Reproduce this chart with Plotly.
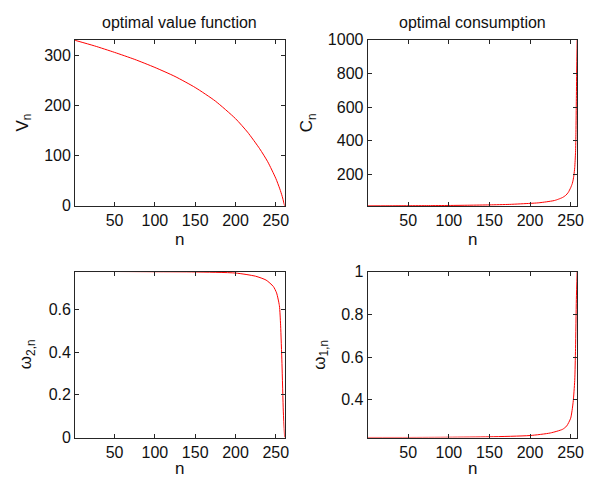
import plotly.graph_objects as go

# ---- data ----
n_v = [1, 25, 50, 75, 100, 125, 150, 175, 200, 215, 230, 240, 250, 255, 258, 261]
v_n = [330, 319, 306, 292, 276, 258, 236, 209, 174, 147, 114, 88, 55, 34, 19, 0]

n_c = [0, 25, 50, 75, 100, 125, 150, 175, 200, 210, 220, 230, 235, 240, 244, 247,
       250, 252, 253, 254, 255, 256, 256.5, 257, 257.5, 258]
c_n = [12, 12.5, 13, 13.5, 14.5, 16, 18, 21, 27, 30, 36, 44, 52, 62, 75, 92,
       120, 145, 165, 195, 240, 330, 450, 650, 850, 1000]

n_w2 = [1, 50, 100, 150, 200, 225, 238, 247, 251, 254.5, 256, 257.7, 259.4, 261]
w2_n = [0.777, 0.777, 0.776, 0.775, 0.770, 0.755, 0.737, 0.707, 0.677, 0.617,
        0.526, 0.346, 0.12, 0.0]

n_w1 = [0, 50, 100, 150, 200, 225, 240, 245, 250, 253, 255, 256, 257, 258]
w1_n = [0.224, 0.224, 0.225, 0.227, 0.233, 0.245, 0.262, 0.277, 0.314, 0.388,
        0.49, 0.64, 0.87, 1.0]

x_ticks = [50, 100, 150, 200, 250]
v_ticks = [0, 100, 200, 300]
c_ticks = [200, 400, 600, 800, 1000]
w2_ticks = [0, 0.2, 0.4, 0.6]
w2_labels = ["0", "0.2", "0.4", "0.6"]
w1_ticks = [0.4, 0.6, 0.8, 1]
w1_labels = ["0.4", "0.6", "0.8", "1"]

titles = ["optimal value function", "optimal consumption"]

W, H = 598, 490
FONT = "Liberation Sans, Arial, Helvetica, sans-serif"
AX = "#262626"
TXT = "#111111"
RED = "#ff0000"

def px_dom(a, b, total):
    return [a / total, b / total]

xl = px_dom(76, 288, W)
xr = px_dom(372, 584, W)
yt = [1 - 205 / H, 1 - 33 / H]
yb = [1 - 445 / H, 1 - 273 / H]

fig = go.Figure()

panels = [
    (n_v, v_n, "x", "y"),
    (n_c, c_n, "x2", "y2"),
    (n_w2, w2_n, "x3", "y3"),
    (n_w1, w1_n, "x4", "y4"),
]
for xs, ys, xa, ya in panels:
    fig.add_trace(go.Scatter(x=xs, y=ys, mode="lines", xaxis=xa, yaxis=ya,
                             line=dict(color=RED, width=1, shape="spline", smoothing=0.6),
                             showlegend=False, hoverinfo="skip"))

common = dict(showline=True, mirror="ticks", linecolor=AX, linewidth=1,
              ticks="inside", ticklen=4, tickcolor=AX, tickwidth=1,
              showgrid=False, zeroline=False,
              tickfont=dict(family=FONT, size=16, color=TXT))

fig.update_layout(
    width=W, height=H,
    margin=dict(l=0, r=0, t=0, b=0),
    paper_bgcolor="white", plot_bgcolor="white",
    font=dict(family=FONT, color=TXT),
    xaxis=dict(domain=xl, anchor="y", range=[1, 261], tickvals=x_ticks, **common),
    yaxis=dict(domain=yt, anchor="x", range=[0, 331], tickvals=v_ticks, **common),
    xaxis2=dict(domain=xr, anchor="y2", range=[0, 258], tickvals=x_ticks, **common),
    yaxis2=dict(domain=yt, anchor="x2", range=[12, 1000], tickvals=c_ticks, **common),
    xaxis3=dict(domain=xl, anchor="y3", range=[1, 261], tickvals=x_ticks, **common),
    yaxis3=dict(domain=yb, anchor="x3", range=[0, 0.777], tickvals=w2_ticks,
                ticktext=w2_labels, **common),
    xaxis4=dict(domain=xr, anchor="y4", range=[0, 258], tickvals=x_ticks, **common),
    yaxis4=dict(domain=yb, anchor="x4", range=[0.2235, 1], tickvals=w1_ticks,
                ticktext=w1_labels, **common),
)

ann = []
for t, dom in zip(titles, [xl, xr]):
    ann.append(dict(text=t, x=sum(dom) / 2, y=1 - 15 / H, xref="paper", yref="paper",
                    showarrow=False, xanchor="center", yanchor="middle",
                    font=dict(family=FONT, size=16, color=TXT)))

labfont = dict(family=FONT, size=17, color=TXT)
for cx, cy in [(sum(xl) / 2, 240), (sum(xr) / 2, 240), (sum(xl) / 2, 477), (sum(xr) / 2, 477)]:
    ann.append(dict(text="n", x=cx, y=1 - cy / H, xref="paper", yref="paper",
                    showarrow=False, xanchor="center", yanchor="middle", font=labfont))
ylabs = [("V<sub>n</sub>", 24, 119), ("C<sub>n</sub>", 312, 119),
         ("ω<sub>2,n</sub>", 27, 359), ("ω<sub>1,n</sub>", 324, 359)]
for t, cx, cy in ylabs:
    ann.append(dict(text=t, x=cx / W, y=1 - cy / H, xref="paper", yref="paper",
                    showarrow=False, xanchor="center", yanchor="middle",
                    textangle=-90, font=labfont))

fig.update_layout(annotations=ann)
fig.write_html("out.html", config={"displayModeBar": False},
               post_script="document.body.style.margin='0';document.body.style.overflow='hidden';")
